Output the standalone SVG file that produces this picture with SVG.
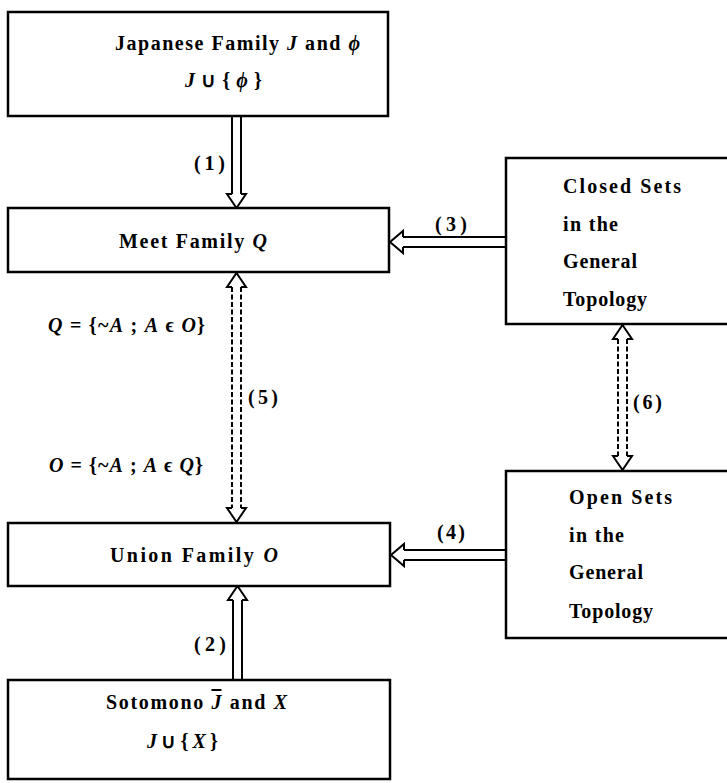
<svg xmlns="http://www.w3.org/2000/svg" width="727" height="783" viewBox="0 0 727 783">
<style>
.box{fill:#fff;stroke:#000;stroke-width:2.5}
.t{font-family:"Liberation Serif","Times New Roman",serif;font-weight:bold;font-size:20px;fill:#000}
.m{font-style:italic}
.sh{fill:none;stroke:#000;stroke-width:2}
.hd{fill:#fff;stroke:#000;stroke-width:2;stroke-linejoin:miter}
.ds{stroke-dasharray:5 2.5}
</style>
<rect width="727" height="783" fill="#fff"/>
<g id="connectors">
  <g id="arrow1">
    <line class="sh" x1="232" y1="116" x2="232" y2="194"/>
    <line class="sh" x1="241" y1="116" x2="241" y2="194"/>
    <polyline class="hd" points="232,194 227,194 236.5,208 246,194 241,194"/>
    <text class="t" x="194" y="170" textLength="31">(1)</text>
  </g>
  <g id="arrow2">
    <line class="sh" x1="233" y1="680" x2="233" y2="600"/>
    <line class="sh" x1="242" y1="680" x2="242" y2="600"/>
    <polyline class="hd" points="233,600 228,600 237.5,586 247,600 242,600"/>
    <text class="t" x="194" y="651" textLength="32">(2)</text>
  </g>
  <g id="arrow3">
    <line class="sh" x1="506" y1="237" x2="403" y2="237"/>
    <line class="sh" x1="506" y1="247" x2="403" y2="247"/>
    <polyline class="hd" points="403,237 403,231 390,242 403,253 403,247"/>
    <text class="t" x="435" y="231" textLength="32">(3)</text>
  </g>
  <g id="arrow4">
    <line class="sh" x1="506" y1="550" x2="404" y2="550"/>
    <line class="sh" x1="506" y1="560" x2="404" y2="560"/>
    <polyline class="hd" points="404,550 404,544 391,555 404,566 404,560"/>
    <text class="t" x="437" y="539" textLength="28">(4)</text>
  </g>
  <g id="arrow5">
    <line class="sh ds" x1="232" y1="287" x2="232" y2="508"/>
    <line class="sh ds" x1="241" y1="287" x2="241" y2="508"/>
    <polyline class="hd" points="232,287 227,287 236.5,273 246,287 241,287"/>
    <polyline class="hd" points="232,508 227,508 236.5,522 246,508 241,508"/>
    <text class="t" x="248" y="404" textLength="30">(5)</text>
  </g>
  <g id="arrow6">
    <line class="sh ds" x1="618" y1="339" x2="618" y2="456"/>
    <line class="sh ds" x1="627" y1="339" x2="627" y2="456"/>
    <polyline class="hd" points="618,339 613,339 622.5,325 632,339 627,339"/>
    <polyline class="hd" points="618,456 613,456 622.5,470 632,456 627,456"/>
    <text class="t" x="633" y="409" textLength="29">(6)</text>
  </g>
  <text class="t" x="48" y="332" textLength="157"><tspan class="m">Q</tspan> = {~<tspan class="m">A</tspan> ; <tspan class="m">A</tspan> ϵ <tspan class="m">O</tspan>}</text>
  <text class="t" x="49" y="472" textLength="154"><tspan class="m">O</tspan> = {~<tspan class="m">A</tspan> ; <tspan class="m">A</tspan> ϵ <tspan class="m">Q</tspan>}</text>
</g>
<g id="japanese">
  <rect class="box" x="8" y="12" width="380" height="104"/>
  <text class="t" x="115" y="50" textLength="245">Japanese Family <tspan class="m">J</tspan> and <tspan class="m">ϕ</tspan></text>
  <text class="t" x="185" y="87" textLength="77"><tspan class="m">J</tspan>∪{<tspan class="m">ϕ</tspan>}</text>
</g>
<g id="meet">
  <rect class="box" x="8" y="208" width="381" height="64"/>
  <text class="t" x="119" y="248" textLength="148">Meet Family <tspan class="m">Q</tspan></text>
</g>
<g id="union">
  <rect class="box" x="8" y="523" width="382" height="63"/>
  <text class="t" x="110" y="562" textLength="168">Union Family <tspan class="m">O</tspan></text>
</g>
<g id="sotomono">
  <rect class="box" x="8" y="680" width="382" height="99"/>
  <text class="t" x="106" y="709" textLength="181">Sotomono <tspan class="m" style="text-decoration:overline">J</tspan> and <tspan class="m">X</tspan></text>
  <text class="t" x="147" y="748" textLength="71"><tspan class="m">J</tspan>∪{<tspan class="m">X</tspan>}</text>
</g>
<g id="closed">
  <rect class="box" x="506" y="158" width="240" height="166"/>
  <text class="t" x="563" y="193" textLength="118">Closed Sets</text>
  <text class="t" x="563" y="231" textLength="55">in the</text>
  <text class="t" x="563" y="268" textLength="74">General</text>
  <text class="t" x="563" y="306" textLength="84">Topology</text>
</g>
<g id="open">
  <rect class="box" x="506" y="471" width="240" height="167"/>
  <text class="t" x="569" y="504" textLength="103">Open Sets</text>
  <text class="t" x="569" y="542" textLength="55">in the</text>
  <text class="t" x="569" y="579" textLength="74">General</text>
  <text class="t" x="569" y="618" textLength="84">Topology</text>
</g>
</svg>
